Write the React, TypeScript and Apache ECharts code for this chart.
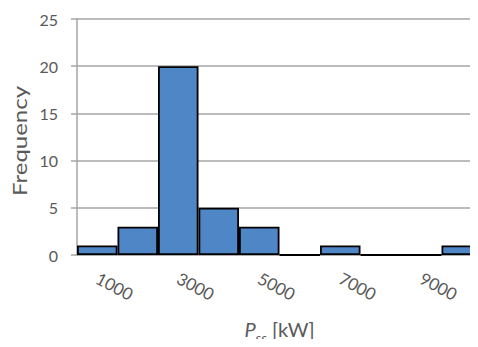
import React, { useEffect, useRef } from "react";
import * as echarts from "echarts";

const categories = ["1000", "2000", "3000", "4000", "5000", "6000", "7000", "8000", "9000", "10000"];
const frequencies = [1, 3, 20, 5, 3, 0, 1, 0, 0, 1];
const yTicks = { min: 0, max: 25, interval: 5 };
const yTitle = "Frequency";

export default function App() {
  const ref = useRef<HTMLDivElement>(null);
  useEffect(() => {
    const chart = echarts.init(ref.current!, undefined, { renderer: "svg" });
    const gray = "#a6a6a6";
    const txt = "#595959";
    chart.setOption({
      animation: false,
      grid: { left: 77, right: -4, top: 19, bottom: 92, outerBoundsMode: "none", containLabel: false },
      graphic: [
        {
          type: "text",
          x: 19,
          y: 141,
          rotation: Math.PI / 2,
          scaleX: 1.2,
          style: {
            text: yTitle,
            fontFamily: "Lato",
            fontSize: 20,
            fill: txt,
            align: "center",
            verticalAlign: "middle",
          },
        },
      ],
      xAxis: {
        type: "category",
        data: categories,
        boundaryGap: true,
        axisLine: { show: true, lineStyle: { color: gray, width: 1.5 } },
        axisTick: { show: false },
        axisLabel: {
          interval: 1,
          rotate: -28,
          margin: 22,
          fontFamily: "Lato",
          fontSize: 17,
          color: txt,
        },
        name: "{p|P}{s|ss}{n| [kW]}",
        nameLocation: "middle",
        nameGap: 62,
        nameTextStyle: {
          color: txt,
          fontFamily: "Lato",
          rich: {
            p: { fontStyle: "italic", fontSize: 20, fontFamily: "Lato", color: txt, lineHeight: 24, verticalAlign: "middle" },
            s: { fontStyle: "italic", fontSize: 14, fontFamily: "Lato", color: txt, lineHeight: 16, verticalAlign: "bottom", padding: [0, 0, -3, 0] },
            n: { fontSize: 20, fontFamily: "Lato", color: txt, lineHeight: 24, verticalAlign: "middle" },
          },
        },
      },
      yAxis: {
        type: "value",
        min: yTicks.min,
        max: yTicks.max,
        interval: yTicks.interval,
        axisLine: { show: true, lineStyle: { color: gray, width: 1.5 } },
        axisTick: { show: true, length: 6, lineStyle: { color: gray, width: 1.5 } },
        splitLine: { show: true, lineStyle: { color: gray, width: 1.5 } },
        axisLabel: { margin: 19, fontFamily: "Lato", fontSize: 16, color: txt },
      },
      series: [
        {
          type: "bar",
          data: frequencies,
          barWidth: "100%",
          barCategoryGap: "0%",
          itemStyle: { color: "#4f86c6", borderColor: "#000000", borderWidth: 1.8 },
        },
      ],
    });
    return () => chart.dispose();
  }, []);
  return <div ref={ref} style={{ width: 478, height: 347, margin: -8 }} />;
}
